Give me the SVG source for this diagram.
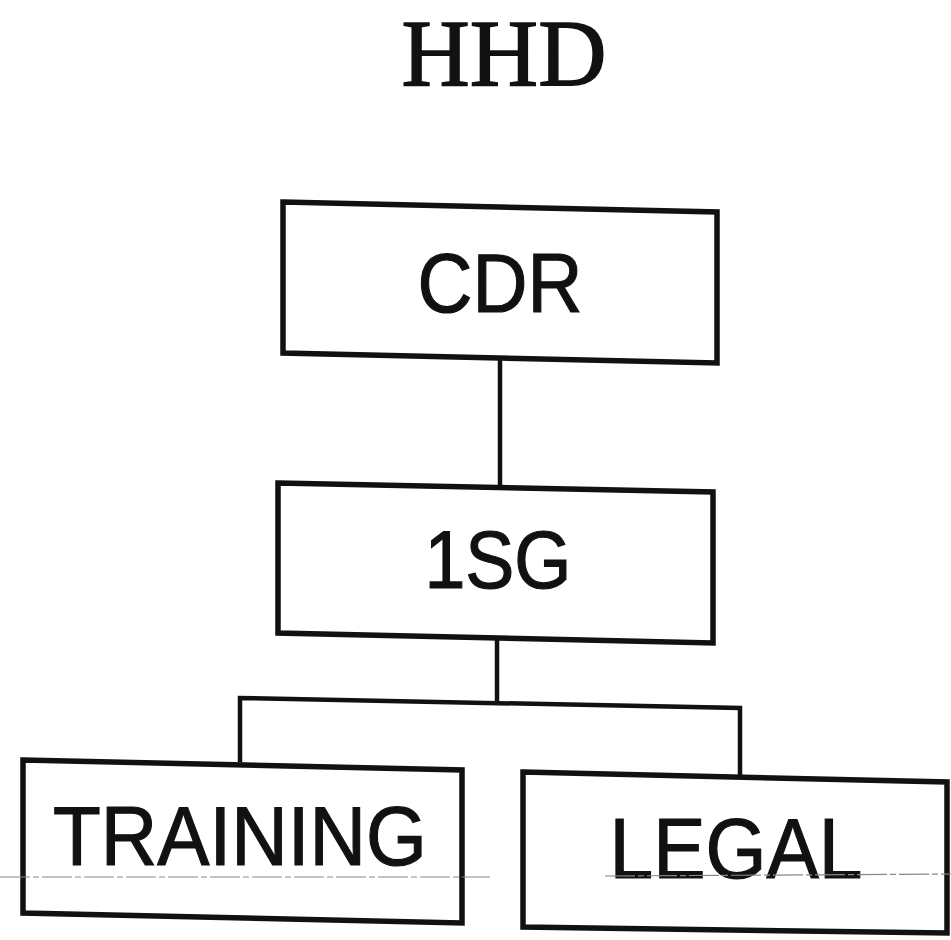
<svg xmlns="http://www.w3.org/2000/svg" width="951" height="940" viewBox="0 0 951 940">
  <style>
    .box { fill: #ffffff; stroke: #111111; stroke-width: 5.5; stroke-linejoin: miter; }
    .link { fill: none; stroke: #111111; stroke-width: 4.5; }
    .label { font-family: "Liberation Sans", Arial, sans-serif; fill: #111111; stroke: #111111; stroke-width: 1.2; text-anchor: middle; }
    .title { font-family: "Liberation Serif", "Times New Roman", serif; fill: #111111; stroke: #111111; stroke-width: 1.5; text-anchor: middle; }
    .scanline { stroke: #888888; stroke-width: 1.2; stroke-dasharray: 30 3 6 3; fill: none; }
  </style>
  <rect width="951" height="940" fill="#ffffff"/>

  <!-- heading -->
  <text class="title" x="504" y="86" font-size="96" textLength="205" lengthAdjust="spacingAndGlyphs">HHD</text>

  <!-- connectors -->
  <g id="connectors">
    <path class="link" d="M500,358 L500,488"/>
    <path class="link" d="M497,638 L497,703"/>
    <path class="link" d="M240,762 L240,698 L740,708 L740,778"/>
  </g>

  <g id="node-cdr">
    <polygon class="box" points="283,202 717,212 717,363 283,353"/>
    <text class="label" x="500" y="312" font-size="84" textLength="165" lengthAdjust="spacingAndGlyphs">CDR</text>
  </g>

  <g id="node-1sg">
    <polygon class="box" points="278,483 713,492 713,643 278,633"/>
    <text class="label" x="498" y="588" font-size="81" textLength="147" lengthAdjust="spacingAndGlyphs">1SG</text>
  </g>

  <g id="node-training">
    <polygon class="box" points="23,760 462,770 462,923 23,913"/>
    <text class="label" x="240" y="865" font-size="84" textLength="374" lengthAdjust="spacingAndGlyphs">TRAINING</text>
  </g>

  <g id="node-legal">
    <polygon class="box" points="523,772 947,782 947,933 523,927"/>
    <text class="label" x="736" y="878" font-size="85" textLength="253" lengthAdjust="spacingAndGlyphs">LEGAL</text>
  </g>

  <!-- faint horizontal rule across the lower boxes -->
  <path class="scanline" d="M0,877 L490,877"/>
  <path class="scanline" d="M605,876 L951,874"/>
</svg>
